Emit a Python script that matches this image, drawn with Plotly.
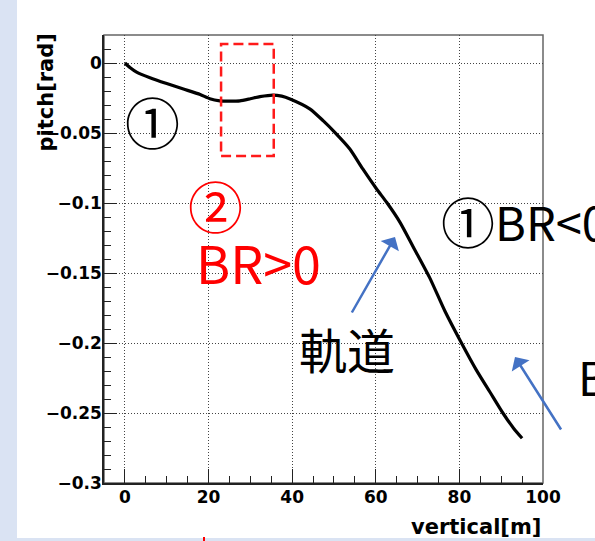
import plotly.graph_objects as go

# ---- data ----
vertical_m = [0, 1.2, 2.8, 6, 10, 14, 18, 20.3, 22.7, 25, 27.5, 30, 32.3, 35.4, 37.5,
              39.5, 44.3, 47.4, 50.2, 53.8, 56.9, 60.2, 62.6, 65.8, 68.9, 73, 76.5,
              80.5, 84, 87.3, 90.4, 93, 95]
pitch_rad = [0, -0.0032, -0.0065, -0.0105, -0.0147, -0.0186, -0.0225, -0.0255, -0.027,
             -0.0272, -0.027, -0.0255, -0.024, -0.0229, -0.0237, -0.0257, -0.0329,
             -0.0412, -0.0495, -0.0614, -0.0757, -0.090, -0.0995, -0.1138, -0.131,
             -0.154, -0.177, -0.200, -0.219, -0.235, -0.250, -0.261, -0.268]

x_ticks = [0, 20, 40, 60, 80, 100]
x_ticklabels = ["0", "20", "40", "60", "80", "100"]
y_ticks = [0, -0.05, -0.1, -0.15, -0.2, -0.25, -0.3]
y_ticklabels = ["0", "\u22120.05", "\u22120.1", "\u22120.15", "\u22120.2", "\u22120.25", "\u22120.3"]

# highlighted region (red dashed box)
box_x = [23.0, 35.6]
box_y = [-0.0664, 0.0136]

# ---- layout geometry helpers (pixels -> paper) ----
W_FIG, H_FIG = 595, 541
L, T, R, B = 104, 35, 52, 58
PW, PH = W_FIG - L - R, H_FIG - T - B


def px(x):
    return (x - L) / PW


def py(y):
    return 1 - (y - T) / PH


fig = go.Figure()
fig.add_trace(go.Scatter(x=vertical_m, y=pitch_rad, mode="lines",
                         line=dict(color="black", width=3.2, shape="spline", smoothing=0.6),
                         showlegend=False))

tickfont = dict(family="DejaVu Sans", size=17, color="black", weight="bold")
fig.update_xaxes(range=[-5, 100], tickvals=x_ticks, ticktext=x_ticklabels,
                 ticks="inside", ticklen=14, tickwidth=1, tickcolor="#222",
                 minor=dict(dtick=5, tick0=0, ticks="inside", ticklen=7, tickcolor="#222"),
                 showgrid=True, gridcolor="#444", gridwidth=1, griddash="1px,2px",
                 zeroline=False, showline=True, linecolor="#222", linewidth=1.5,
                 tickfont=tickfont, ticklabelstandoff=-2)
fig.update_yaxes(range=[-0.3, 0.02], tickvals=y_ticks, ticktext=y_ticklabels,
                 ticks="inside", ticklen=13, tickwidth=1, tickcolor="#222",
                 minor=dict(dtick=0.01, tick0=0, ticks="inside", ticklen=7, tickcolor="#222"),
                 showgrid=True, gridcolor="#444", gridwidth=1, griddash="1px,2px",
                 zeroline=False, showline=True, linecolor="#222", linewidth=1.5,
                 tickfont=tickfont, ticklabelstandoff=-3)

shapes = [
    # light blue slide edges
    dict(type="rect", xref="paper", yref="paper", x0=px(0), x1=px(17), y0=py(541), y1=py(0),
         fillcolor="#dae3f3", line=dict(width=0), layer="below"),
    dict(type="rect", xref="paper", yref="paper", x0=px(17), x1=px(595), y0=py(541), y1=py(538),
         fillcolor="#dae3f3", line=dict(width=0), layer="below"),
    # frame (top/right in grey)
    dict(type="rect", xref="paper", yref="paper", x0=0, x1=1, y0=0, y1=1,
         line=dict(color="#666", width=1.5), layer="below"),
    # red dashed box
    dict(type="rect", xref="x", yref="y", x0=box_x[0], x1=box_x[1], y0=box_y[0], y1=box_y[1],
         line=dict(color="#ff1a1a", width=2.5, dash="10px,5px")),
    # tiny red mark at bottom
    dict(type="line", xref="paper", yref="paper", x0=px(204), x1=px(204), y0=py(541), y1=py(537),
         line=dict(color="red", width=2)),
]
fig.update_layout(shapes=shapes)

cjk = "Noto Sans CJK JP"
ann = [
    dict(text="pitch[rad]", x=px(45), y=py(92.5), textangle=-90,
         font=dict(family="DejaVu Sans", size=21, color="black", weight="bold")),
    dict(text="vertical[m]", x=px(543), y=py(527), xanchor="right",
         font=dict(family="DejaVu Sans", size=21, color="black", weight="bold")),
    dict(text="\u2460", x=px(152), y=py(120), font=dict(family=cjk, size=55, color="black")),
    dict(text="\u2461", x=px(215), y=py(204), font=dict(family=cjk, size=55, color="red")),
    dict(text="BR&gt;0", x=px(194), y=py(261), xanchor="left",
         font=dict(family=cjk, size=52, color="red")),
    dict(text="\u2460", x=px(467.5), y=py(220), font=dict(family=cjk, size=54, color="black")),
    dict(text="BR&lt;0", x=px(493), y=py(220), xanchor="left",
         font=dict(family=cjk, size=47, color="black")),
    dict(text="\u8ecc\u9053", x=px(347), y=py(348), font=dict(family=cjk, size=48, color="black")),
    dict(text="BR", x=px(576), y=py(376), xanchor="left",
         font=dict(family=cjk, size=46, color="black")),
]
for a in ann:
    a.setdefault("xanchor", "center")
    a.update(xref="paper", yref="paper", showarrow=False, yanchor="middle")

arrows = [
    dict(x=px(395), y=py(237), ax=351 - 395, ay=314 - 237),
    dict(x=px(515), y=py(357), ax=562 - 515, ay=431 - 357),
]
for a in arrows:
    a.update(xref="paper", yref="paper", text="", showarrow=True, arrowhead=1,
             arrowsize=1.4, arrowwidth=2.5, arrowcolor="#4472c4", standoff=0)
fig.update_layout(annotations=ann + arrows)

fig.update_layout(width=W_FIG, height=H_FIG, autosize=False,
                  margin=dict(l=L, r=R, t=T, b=B),
                  paper_bgcolor="white", plot_bgcolor="white",
                  font=dict(family="DejaVu Sans"))

fig.write_html("out.html", config={"displayModeBar": False},
               post_script="document.body.style.margin='0';document.body.style.overflow='hidden';")
